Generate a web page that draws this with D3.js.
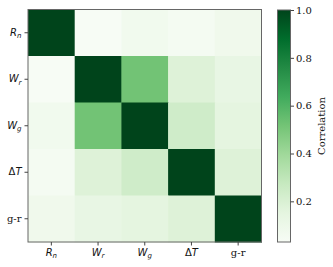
<!DOCTYPE html>
<html>
<head>
<meta charset="utf-8">
<script src="https://cdn.jsdelivr.net/npm/d3@7"></script>
<style>
body { margin: 0; background: #fff; }
</style>
</head>
<body>
<div id="chart"></div>
<script>
// variable names (underscore = subscript)
const categories = ["R_n", "W_r", "W_g", "ΔT", "g-r"];

// correlation matrix, one row per variable
const rowRn = [1.00, 0.03, 0.07, 0.05, 0.08];
const rowWr = [0.03, 1.00, 0.52, 0.18, 0.13];
const rowWg = [0.07, 0.52, 1.00, 0.24, 0.15];
const rowDT = [0.05, 0.18, 0.24, 1.00, 0.18];
const rowGR = [0.08, 0.13, 0.15, 0.18, 1.00];
const matrix = [rowRn, rowWr, rowWg, rowDT, rowGR];

const cbarTicks = [0.2, 0.4, 0.6, 0.8, 1.0];
const vmin = 0.03, vmax = 1.0;

const greens = ["#f7fcf5","#e5f5e0","#c7e9c0","#a1d99b","#74c476","#41ab5d","#238b45","#006d2c","#00441b"];

const w = 333, h = 267;
const plotLeft = 28, plotRight = 261.5, plotTop = 9.5, plotBottom = 242;

const svg = d3.select("#chart")
  .append("svg")
  .attr("width", w)
  .attr("height", h);

const xScale = d3.scaleBand().domain(categories).range([plotLeft, plotRight]).padding(0);
const yScale = d3.scaleBand().domain(categories).range([plotTop, plotBottom]).padding(0);

const color = d3.scaleLinear()
  .domain(greens.map((c, i) => vmin + (vmax - vmin) * i / (greens.length - 1)))
  .range(greens)
  .clamp(true);

const cells = [];
matrix.forEach((row, i) => row.forEach((v, j) => cells.push({r: categories[i], c: categories[j], v: v})));

svg.selectAll("rect.cell")
  .data(cells)
  .enter()
  .append("rect")
  .attr("class", "cell")
  .attr("x", d => xScale(d.c))
  .attr("y", d => yScale(d.r))
  .attr("width", xScale.bandwidth() + 0.5)
  .attr("height", yScale.bandwidth() + 0.5)
  .attr("fill", d => color(d.v));

svg.append("rect")
  .attr("x", plotLeft).attr("y", plotTop)
  .attr("width", plotRight - plotLeft).attr("height", plotBottom - plotTop)
  .attr("fill", "none").attr("stroke", "#666").attr("stroke-width", 1);

// math-ish labels
function setLabel(sel) {
  sel.each(function(d) {
    const t = d3.select(this);
    t.text(null);
    if (d.indexOf("_") >= 0) {
      const parts = d.split("_");
      t.append("tspan").attr("font-style", "italic").attr("font-family", "DejaVu Sans").text(parts[0]);
      t.append("tspan").attr("font-style", "italic").attr("font-family", "DejaVu Sans")
        .attr("font-size", 7).attr("dy", 2.5).text(parts[1]);
    } else if (d[0] === "Δ") {
      t.append("tspan").attr("font-family", "DejaVu Sans").text("Δ");
      t.append("tspan").attr("font-style", "italic").attr("font-family", "DejaVu Sans").text(d.slice(1));
    } else {
      t.append("tspan").attr("font-family", "DejaVu Serif").text(d);
    }
  });
}

const xAxis = d3.axisBottom(xScale).tickSize(3.5).tickSizeOuter(0).tickPadding(3);
const gx = svg.append("g")
  .attr("transform", "translate(0," + plotBottom + ")")
  .call(xAxis);
gx.select(".domain").remove();
gx.selectAll("text").attr("font-size", 10).attr("fill", "#111").call(setLabel);
gx.selectAll("line").attr("stroke", "#444");

const yAxis = d3.axisLeft(yScale).tickSize(3.5).tickSizeOuter(0).tickPadding(3);
const gy = svg.append("g")
  .attr("transform", "translate(" + plotLeft + ",0)")
  .call(yAxis);
gy.select(".domain").remove();
gy.selectAll("text").attr("font-size", 10).attr("fill", "#111").call(setLabel);
gy.selectAll("line").attr("stroke", "#444");

// colorbar
const cbX = 277.5, cbW = 13, cbTop = 10, cbBottom = 242;
const cbScale = d3.scaleLinear().domain([vmin, vmax]).range([cbBottom, cbTop]);

const grad = svg.append("defs").append("linearGradient")
  .attr("id", "cbgrad")
  .attr("x1", 0).attr("y1", 1).attr("x2", 0).attr("y2", 0);
grad.selectAll("stop")
  .data(greens)
  .enter()
  .append("stop")
  .attr("offset", (d, i) => i / (greens.length - 1))
  .attr("stop-color", d => d);

svg.append("rect")
  .attr("x", cbX).attr("y", cbTop)
  .attr("width", cbW).attr("height", cbBottom - cbTop)
  .attr("fill", "url(#cbgrad)")
  .attr("stroke", "#666").attr("stroke-width", 1);

const cbAxis = d3.axisRight(cbScale).tickValues(cbarTicks).tickFormat(d3.format(".1f"))
  .tickSize(3.5).tickSizeOuter(0).tickPadding(2);
const gc = svg.append("g")
  .attr("transform", "translate(" + (cbX + cbW) + ",0)")
  .call(cbAxis);
gc.select(".domain").remove();
gc.selectAll("text").attr("font-size", 10).attr("font-family", "DejaVu Serif").attr("fill", "#111");
gc.selectAll("line").attr("stroke", "#444");

svg.append("text")
  .attr("transform", "translate(325," + ((cbTop + cbBottom) / 2) + ") rotate(-90)")
  .attr("text-anchor", "middle")
  .attr("font-family", "DejaVu Serif")
  .attr("font-size", 10)
  .attr("fill", "#111")
  .text("Correlation");
</script>
</body>
</html>
